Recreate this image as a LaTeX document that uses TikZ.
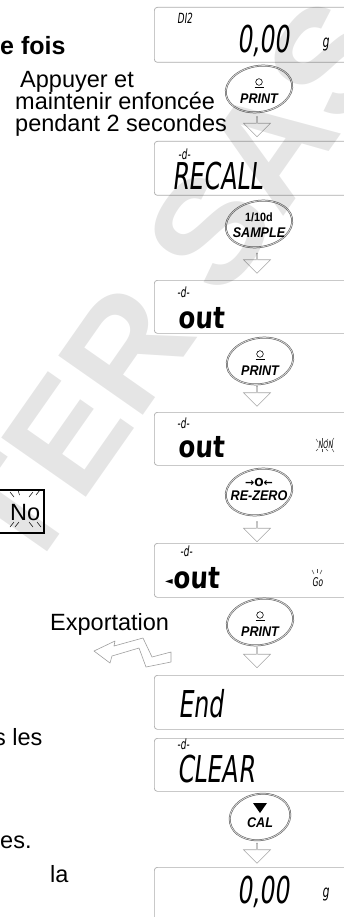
\documentclass[tikz,border=0pt]{standalone}
\usepackage{fontspec}
\setmainfont{Liberation Sans}
\newfontfamily\segfont[FakeSlant=0.12,FakeStretch=0.64]{DejaVu Sans}
\newfontfamily\segwidefont[FakeSlant=0.05,FakeStretch=0.82]{DejaVu Sans}
\newfontfamily\keyfont[FakeStretch=0.9]{Liberation Sans}
\newfontfamily\symfont{DejaVu Sans}
\usetikzlibrary{shapes.geometric,shapes.arrows,calc,positioning}

\tikzset{
  dispbox/.style={draw=gray!65, line width=0.7pt, rounded corners=3pt, fill=white,
    minimum width=210pt, anchor=north west, inner sep=0pt},
  keyring/.style={ellipse, draw=black!65, double=gray!30, double distance=0.8pt,
    line width=0.5pt, minimum width=67pt, minimum height=46pt, rotate=10},
  keylabel/.style={font=\keyfont\bfseries\itshape\fontsize{14}{14}\selectfont, inner sep=0pt},
  hollowarrow/.style={single arrow, draw=gray!70, line width=0.6pt, fill=white,
    rotate=-90, minimum height=20pt, minimum width=27pt,
    single arrow head extend=7pt, inner sep=0pt},
  seg/.style={font=\segfont\fontsize{37}{37}\selectfont, anchor=base west, inner sep=0pt},
  segout/.style={font=\segwidefont\bfseries\fontsize{30}{30}\selectfont, anchor=base west, inner sep=0pt},
  segtag/.style={font=\segfont\fontsize{14}{14}\selectfont, anchor=base west, inner sep=0pt},
  txt/.style={font=\fontsize{23.5}{23.5}\selectfont, anchor=base west, inner sep=0pt},
  rays/.style={line width=0.5pt, black!70}
}

\begin{document}
\begin{tikzpicture}[x=1pt,y=-1pt]
\useasboundingbox (0,0) rectangle (344,917);

% displays
\node[dispbox, minimum height=55pt] (init) at (154,7) {};
\node[dispbox, minimum height=54pt] (recall) at (154,141) {};
\node[dispbox, minimum height=53pt] (outa) at (154,280) {};
\node[dispbox, minimum height=53pt] (outb) at (154,412) {};
\node[dispbox, minimum height=54pt] (outc) at (154,543) {};
\node[dispbox, minimum height=54pt] (done) at (154,675) {};
\node[dispbox, minimum height=53pt] (clear) at (154,738) {};
\node[dispbox, minimum height=63pt] (final) at (154,867) {};

\node[segtag] at ($(init.north west)+(23,17)$) {DI2};
\node[seg] at ($(init.north west)+(83,46)$) {0,00};
\node[segtag, font=\segfont\fontsize{17}{17}\selectfont] at ($(init.north west)+(168,41)$) {g};

\node[segtag] at ($(recall.north west)+(24,19)$) {-d-};
\node[seg] at ($(recall.north west)+(18,49)$) {RECALL};

\node[segtag] at ($(outa.north west)+(23,17)$) {-d-};
\node[segout] at ($(outa.north west)+(24,48)$) {out};

\node[segtag] at ($(outb.north west)+(23,16)$) {-d-};
\node[segout] at ($(outb.north west)+(24,45)$) {out};
\node[segtag, font=\segfont\fontsize{10}{10}\selectfont] (non) at ($(outb.north west)+(164,36)$) {NON};

\node[segtag] at ($(outc.north west)+(26,13)$) {-d-};
\node[font=\symfont\fontsize{10}{10}\selectfont, inner sep=0pt] at ($(outc.north west)+(15,39)$) {◄};
\node[segout] at ($(outc.north west)+(19,45)$) {out};
\node[segtag, font=\segfont\fontsize{12}{12}\selectfont] (go) at ($(outc.north west)+(158,43)$) {Go};

\node[seg] at ($(done.north west)+(24,42)$) {End};

\node[segtag] at ($(clear.north west)+(23,11)$) {-d-};
\node[seg] at ($(clear.north west)+(23,44)$) {CLEAR};

\node[seg] at ($(final.north west)+(83,36)$) {0,00};
\node[segtag, font=\segfont\fontsize{17}{17}\selectfont] at ($(final.north west)+(168,30)$) {g};

% blinking marks
\foreach \dx/\dy/\ex/\ey in {-2/-9/0/-6, 4/-10/4/-7, 10/-9/8/-6, 16/-10/14/-7,
                             -2/3/0/1, 4/4/4/1, 10/3/8/1, 16/4/14/1}
  \draw[rays] ($(non.base west)+(\dx,\dy)$) -- ($(non.base west)+(\ex,\ey)$);
\foreach \dx/\dy/\ex/\ey in {0/-16/2/-12, 5/-17/5/-13, 10/-16/8/-12}
  \draw[rays] ($(go.base west)+(\dx,\dy)$) -- ($(go.base west)+(\ex,\ey)$);

% keys
\node[keyring] (print1) at (259,89) {};
\node[keyring] (sample) at (259,224) {};
\node[keyring] (print2) at (260,361) {};
\node[keyring] (rezero) at (259,492) {};
\node[keyring] (print3) at (260,622) {};
\node[keyring, minimum width=61pt] (cal) at (260,817) {};

\foreach \k in {print1,print2,print3}{
  \draw[line width=0.6pt] ($(\k)+(0,-7)$) circle (3.3pt);
  \draw[line width=0.6pt] ($(\k)+(-4.5,-1.8)$) -- ($(\k)+(4.5,-1.8)$);
  \node[keylabel] at ($(\k)+(0,10)$) {PRINT};
}
\node[keylabel, font=\keyfont\bfseries\fontsize{12}{12}\selectfont] at ($(sample)+(0,-7)$) {1/10d};
\node[keylabel] at ($(sample)+(0,9)$) {SAMPLE};
\node[keylabel, font=\symfont\bfseries\fontsize{11}{11}\selectfont] at ($(rezero)+(0,-10)$) {→O←};
\node[keylabel] at ($(rezero)+(0,4)$) {RE-ZERO};
\fill ($(cal)+(-7,-14)$) -- ($(cal)+(7,-14)$) -- ($(cal)+(0,-4)$) -- cycle;
\node[keylabel] at ($(cal)+(0,6)$) {CAL};

% hollow arrows between the steps
\foreach \n/\y in {1/126.5,2/263,3/396,4/531.5,5/657.5,6/853}
  \node[hollowarrow] (arr\n) at (257,\y) {};

% left-hand text
\node[txt, font=\bfseries\fontsize{25}{25}\selectfont] (heading) at (0,55) {e fois};
\node[txt] (hold1) at (20,88) {Appuyer et};
\node[txt] (hold2) at (15,110) {maintenir enfoncée};
\node[txt] (hold3) at (15,132) {pendant 2 secondes};
\node[txt] (export) at (50,630) {Exportation};
\node[txt] (cont1) at (-6,745) {s les};
\node[txt] (cont2) at (0,848) {es.};
\node[txt] (cont3) at (50,882) {la};

% the No setting
\draw[line width=1.3pt] (-6,490) rectangle (44,533);
\node[txt] (nosel) at (10,520) {No};
\foreach \a/\b/\c/\d in {10/492/14/497, 18/490/19.5/495, 29/497/33/492, 36/495/40/490,
                         10/527/14/522, 15/527/19/522, 29/522/33/527, 37/522/41/527}
  \draw[line width=0.5pt] (\a,\b) -- (\c,\d);

% output flash
\draw[gray!75, line width=0.6pt, fill=white, line join=round, shift={(0,11)}]
  (94,640) -- (115,630) -- (114,635) -- (143,627) -- (152,646) -- (171,641)
  -- (171,651) -- (146,656) -- (139,637) -- (112,645) -- (110,652) -- cycle;

% watermark
\node[rotate=55, text=black, text opacity=0.1,
  font=\bfseries\fontsize{150}{150}\selectfont] (mark) at (172,285) {TER SAS};
\end{tikzpicture}
\end{document}
